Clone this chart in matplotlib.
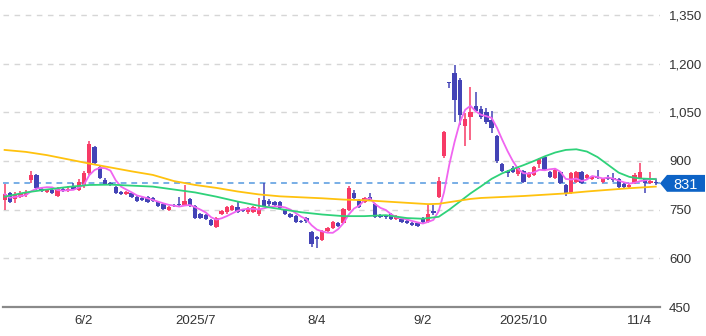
import matplotlib
matplotlib.use("Agg")
import matplotlib.pyplot as plt
from matplotlib.patches import Polygon
import matplotlib.transforms as mtransforms
import numpy as np
import pandas as pd

plt.rcParams['font.family'] = ['Liberation Sans', 'DejaVu Sans']

# ---- data ----
holidays = ['2025-07-21', '2025-08-11', '2025-09-15', '2025-09-23',
            '2025-10-13', '2025-11-03']
dates = [d for d in pd.bdate_range('2025-05-12', '2025-11-07')
         if d.strftime('%Y-%m-%d') not in holidays]

opens = [780, 800, 782, 790, 795, 841, 857, 815, 805, 810, 793, 814, 808, 822, 812, 822, 862, 942, 880, 842,
         832, 820, 804, 798, 801, 788, 785, 789, 785, 774, 767, 749, 765, 768, 764, 783, 761, 737, 734, 718,
         697, 737, 742, 748, 758, 750, 742, 744, 738, 780, 778, 775, 774, 749, 737, 730, 715, 724, 681, 665,
         656, 684, 693, 709, 709, 749, 801, 780, 774, 790, 767, 733, 732, 737, 721, 721, 715, 709, 709, 724,
         712, 745, 789, 915, 1142, 1171, 1150, 1008, 1036, 1070, 1060, 1051, 1026, 977, 891, 868, 878, 860, 869, 850,
         857, 891, 912, 866, 847, 866, 825, 801, 835, 866, 847, 844, 850, 835, 848, 847, 844, 828, 820, 832,
         848, 844, 832, 836]
highs = [830, 804, 804, 806, 810, 869, 860, 820, 814, 813, 820, 818, 822, 832, 845, 870, 962, 945, 886, 846,
         836, 824, 808, 806, 805, 792, 790, 792, 788, 778, 770, 762, 768, 790, 825, 786, 765, 740, 737, 722,
         728, 748, 760, 765, 775, 753, 758, 760, 786, 832, 782, 778, 776, 752, 740, 733, 718, 727, 684, 668,
         686, 695, 714, 712, 754, 822, 810, 783, 788, 800, 770, 736, 735, 740, 733, 724, 718, 712, 712, 727,
         764, 765, 850, 992, 1142, 1196, 1155, 1048, 1128, 1113, 1070, 1062, 1055, 980, 893, 872, 885, 882, 872, 866,
         884, 908, 915, 869, 875, 870, 828, 866, 869, 869, 860, 853, 872, 848, 856, 862, 847, 831, 829, 862,
         893, 848, 866, 845]
lows = [748, 770, 770, 785, 790, 832, 812, 805, 800, 798, 790, 805, 804, 812, 808, 818, 858, 890, 845, 826,
        822, 798, 795, 794, 785, 774, 778, 772, 775, 758, 750, 746, 758, 760, 760, 758, 720, 720, 718, 700,
        694, 734, 738, 745, 740, 742, 738, 740, 730, 758, 762, 762, 752, 735, 725, 710, 709, 710, 635, 632,
        652, 681, 690, 697, 706, 746, 784, 756, 770, 776, 725, 725, 722, 718, 718, 710, 706, 700, 697, 710,
        709, 735, 786, 908, 1125, 1020, 1011, 946, 964, 1050, 1030, 1015, 985, 895, 865, 852, 862, 855, 832, 846,
        854, 878, 868, 847, 844, 829, 792, 798, 832, 829, 844, 841, 843, 832, 842, 836, 817, 817, 815, 829,
        845, 800, 829, 826]
closes = [798, 775, 795, 800, 805, 857, 816, 808, 810, 802, 815, 808, 815, 815, 835, 864, 952, 895, 848, 830,
          826, 802, 798, 803, 788, 778, 781, 775, 778, 761, 752, 758, 762, 764, 777, 761, 724, 724, 721, 703,
          724, 745, 758, 762, 743, 745, 755, 757, 752, 761, 766, 765, 755, 737, 727, 712, 712, 714, 644, 660,
          684, 693, 712, 700, 752, 817, 786, 758, 786, 778, 727, 728, 726, 721, 730, 712, 709, 703, 700, 712,
          737, 740, 838, 989, 1140, 1088, 1042, 1029, 1051, 1054, 1036, 1020, 1002, 900, 869, 862, 866, 879, 835, 863,
          881, 906, 872, 850, 872, 832, 797, 863, 866, 832, 857, 850, 846, 846, 845, 840, 820, 820, 826, 858,
          865, 833, 838, 831]

# 25-day average, read at sample positions
ma25_idx = [0, 4, 8, 12, 16, 20, 24, 28, 32, 36, 40, 44, 48, 52, 56, 60, 64, 68, 72, 76,
            79, 82, 84, 86, 88, 90, 92, 94, 96, 98, 100, 102, 104, 106, 108, 110, 112, 114, 116, 118, 120, 123]
ma25_val = [790, 803, 812, 820, 826, 827, 824, 821, 812, 803, 790, 775, 762, 752, 742, 735, 730, 730, 733, 724,
            722, 728, 750, 775, 800, 822, 845, 862, 875, 887, 900, 914, 926, 934, 936, 929, 912, 888, 864, 851, 846, 844]
# 75-day average, read at sample positions
ma75_idx = [0, 4, 8, 12, 16, 20, 24, 28, 32, 36, 40, 44, 48, 52, 56, 60, 64, 68, 72, 76,
            80, 82, 84, 86, 88, 90, 94, 98, 102, 106, 110, 114, 118, 123]
ma75_val = [934, 928, 918, 905, 892, 880, 868, 857, 838, 826, 817, 806, 797, 791, 788, 785, 781, 779, 775, 771,
            767, 768, 773, 778, 783, 786, 789, 792, 796, 800, 806, 811, 816, 821]

tick_dates = ['2025-06-02', '2025-07-01', '2025-08-04', '2025-09-02', '2025-10-01', '2025-11-04']
tick_labels = ['6/2', '2025/7', '8/4', '9/2', '2025/10', '11/4']
y_ticks = [450, 600, 750, 900, 1050, 1200, 1350]

# ---- figure ----
W, H = 706, 336
fig = plt.figure(figsize=(W / 100, H / 100), dpi=100)
ax = fig.add_axes([3 / W, 29 / H, 657 / W, 307 / H])

x = np.arange(len(dates))
o = np.array(opens, float); c = np.array(closes, float)
hi = np.array(highs, float); lo = np.array(lows, float)
up = c >= o
col_up, col_dn = '#f73a66', '#4343b6'
colors = np.where(up, col_up, col_dn)

ax.vlines(x, lo, hi, colors=colors, linewidth=1.1, zorder=3)
body_bot = np.minimum(o, c)
body_h = np.maximum(np.abs(c - o), 3.0)
ax.bar(x, body_h, bottom=body_bot, width=0.82, color=colors, linewidth=0, zorder=4)

ma5 = pd.Series(closes).rolling(5, min_periods=1).mean()
ax.plot(x, ma5, color='#f065f0', lw=1.3, zorder=5)
ax.plot(ma25_idx, ma25_val, color='#2fd27a', lw=1.3, zorder=5)
ax.plot(ma75_idx, ma75_val, color='#ffc20e', lw=1.3, zorder=5)

last = closes[-1]
ax.axhline(last, color='#78aee6', lw=1.4, ls=(0, (3, 2.5)), zorder=2)

ax.set_xlim(-0.3, 123.8)
ax.set_ylim(450, 1396)

ax.set_yticks(y_ticks)
ax.set_yticklabels([f'{v:,}' for v in y_ticks])
ax.yaxis.tick_right()
ax.tick_params(axis='y', length=0, pad=6.5, labelsize=9.5, labelcolor='#333333')
for lab in ax.get_yticklabels():
    lab.set_horizontalalignment('left')

date_str = [d.strftime('%Y-%m-%d') for d in dates]
ax.set_xticks([date_str.index(t) for t in tick_dates])
ax.set_xticklabels(tick_labels)
ax.tick_params(axis='x', length=0, pad=6, labelsize=9.5, labelcolor='#333333')

ax.grid(axis='y', color='#d6d6d6', lw=1, ls=(0, (4, 4)), zorder=0)
for s in ['top', 'right', 'left']:
    ax.spines[s].set_visible(False)
ax.spines['bottom'].set_color('#8a8a8a')
ax.spines['bottom'].set_linewidth(1.6)

# price tag
trans = mtransforms.blended_transform_factory(fig.transFigure, ax.transData)
py = 26
poly = Polygon([(660 / W, last), (667 / W, last + py), (705 / W, last + py),
                (705 / W, last - py), (667 / W, last - py)], closed=True,
               facecolor='#0d63c6', edgecolor='none', transform=trans, clip_on=False, zorder=10)
fig.add_artist(poly)
fig.text(686 / W, last, f'{last}', transform=trans, color='white', fontsize=10.5,
         ha='center', va='center_baseline', zorder=11)

fig.savefig('out.png', dpi=100)
